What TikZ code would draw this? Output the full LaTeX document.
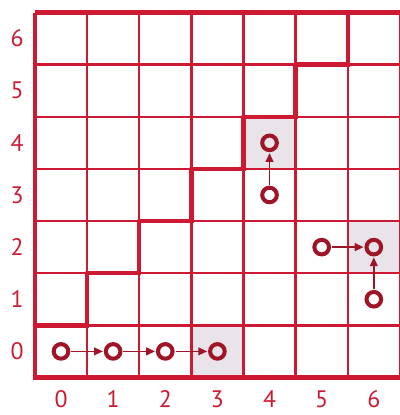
\documentclass[tikz,border=0pt]{standalone}
\usepackage{fontspec}
\setmainfont{PT Sans}
\usetikzlibrary{arrows.meta}

\definecolor{gridred}{RGB}{205,25,50}
\definecolor{dotred}{RGB}{160,20,40}
\definecolor{cellgray}{RGB}{232,228,233}

\begin{document}
\begin{tikzpicture}[x=1cm,y=1cm,
  dot/.style={circle,draw=dotred,line width=2.2pt,minimum size=0.28cm,inner sep=0pt},
  link/.style={draw=dotred,line width=0.8pt,-{Triangle[length=1.7mm,width=1.5mm]},shorten <=0.5pt,shorten >=0.5pt},
  lbl/.style={text=gridred,font=\fontsize{13}{15}\selectfont,inner sep=0pt}]
  \useasboundingbox (-0.67,-0.72) rectangle (7,7.24);
  % shaded cells
  \fill[cellgray] (3,0) rectangle (4,1) (4,4) rectangle (5,5) (6,2) rectangle (7,3);
  \draw[gridred,line width=1.3pt] (0,0) grid (7,7);
  \draw[gridred,line width=2.4pt] (0,7)--(7,7) (0,7)--(0,0)--(7,0);
  % staircase
  \foreach \i in {0,...,5}
    \draw[gridred,line width=2.4pt,line cap=round] (\i,\i+1)--(\i+1,\i+1)--(\i+1,\i+2);
  \foreach \i in {0,...,6}{
    \node[lbl] (x\i) at (\i+0.5,-0.42) {\i};
    \node[lbl] (y\i) at (-0.34,\i+0.5) {\i};
  }
  \foreach \x/\y in {0/0,1/0,2/0,3/0,4/3,4/4,5/2,6/2,6/1}
    \node[dot] (p\x\y) at (\x+0.5,\y+0.5) {};
  \foreach \a/\b in {p00/p10,p10/p20,p20/p30,p43/p44,p52/p62,p61/p62}
    \draw[link] (\a)--(\b);
\end{tikzpicture}
\end{document}
